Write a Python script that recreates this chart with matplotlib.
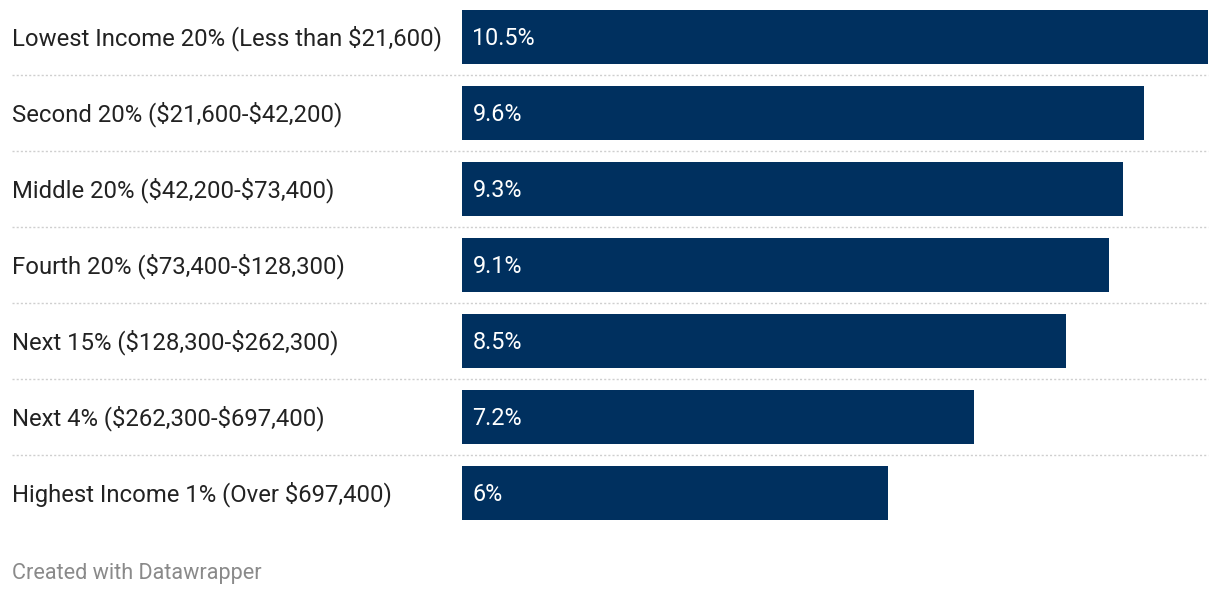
import matplotlib
matplotlib.use("Agg")
import matplotlib.pyplot as plt
import matplotlib.transforms as mtransforms
from matplotlib.lines import Line2D

categories = [
    "Lowest Income 20% (Less than $21,600)",
    "Second 20% ($21,600-$42,200)",
    "Middle 20% ($42,200-$73,400)",
    "Fourth 20% ($73,400-$128,300)",
    "Next 15% ($128,300-$262,300)",
    "Next 4% ($262,300-$697,400)",
    "Highest Income 1% (Over $697,400)",
]
values = [10.5, 9.6, 9.3, 9.1, 8.5, 7.2, 6.0]
value_labels = ["10.5%", "9.6%", "9.3%", "9.1%", "8.5%", "7.2%", "6%"]

plt.rcParams["text.parse_math"] = False
plt.rcParams["font.family"] = ["Roboto", "DejaVu Sans"]

W, H = 1220, 596
fig = plt.figure(figsize=(W / 100, H / 100), dpi=100)

x0, x1 = 462, 1208
top_px, bot_px = -1, 531
ax = fig.add_axes([x0 / W, (H - bot_px) / H, (x1 - x0) / W, (bot_px - top_px) / H])
ax.set_xlim(0, max(values))
n = len(categories)
ax.set_ylim(n - 0.5, -0.5)
ax.axis("off")

ypos = list(range(n))
ax.barh(ypos, values, height=54 / 76, color="#00305f", left=0)

for y, lab in zip(ypos, value_labels):
    ax.annotate(lab, xy=(0, y), xytext=(10.5, -1.5), textcoords="offset pixels",
                color="white", fontsize=16.8, va="center", ha="left")

trans = mtransforms.blended_transform_factory(fig.transFigure, ax.transData)
for y, cat in zip(ypos, categories):
    ax.annotate(cat, xy=(12 / W, y), xycoords=trans, xytext=(0, -1.5),
                textcoords="offset pixels", color="#222222", fontsize=17.2,
                va="center", ha="left", annotation_clip=False)

for i in range(n - 1):
    ln = Line2D([12 / W, x1 / W], [i + 0.5, i + 0.5], transform=trans,
                color="#cfcfcf", linewidth=1.0, linestyle=(0, (1.5, 1.5)),
                clip_on=False)
    fig.add_artist(ln)

fig.text(12 / W, 1 - 573 / H, "Created with Datawrapper", color="#8a8a8a",
         fontsize=15.6, va="center", ha="left")

fig.savefig("out.png", dpi=100)
